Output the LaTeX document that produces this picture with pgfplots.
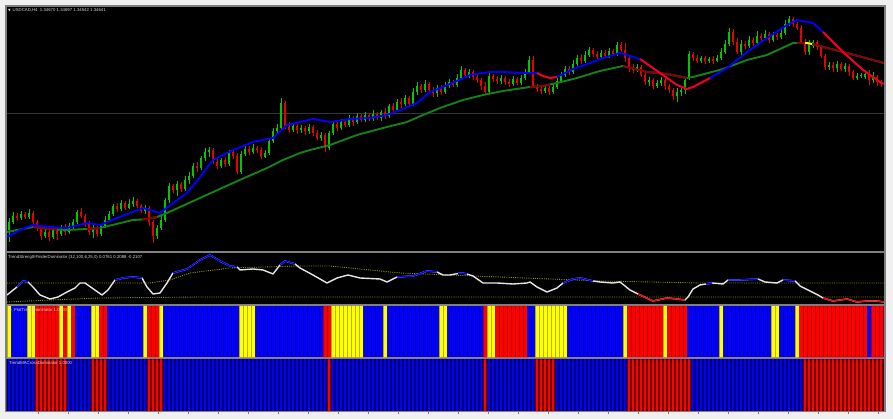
\documentclass[border=0pt]{standalone}
\usepackage{pgfplots}
\pgfplotsset{compat=1.18}
\usepackage{pgfplotstable}
\usepackage{fontspec}
\setmainfont{Liberation Sans}
\newfontfamily\dejavu{DejaVu Sans}
\definecolor{bgout}{RGB}{240,240,240}
\definecolor{framec}{RGB}{128,128,128}
\definecolor{cgreen}{RGB}{0,200,0}
\definecolor{cred}{RGB}{235,0,0}
\definecolor{mablue}{RGB}{0,0,255}
\definecolor{mared}{RGB}{255,0,0}
\definecolor{slowgreen}{RGB}{20,130,20}
\definecolor{slowred}{RGB}{140,0,0}
\definecolor{dotc}{RGB}{150,150,0}
\definecolor{oscwhite}{RGB}{230,230,230}
\definecolor{hblue}{RGB}{0,0,255}
\definecolor{hred}{RGB}{255,0,0}
\definecolor{hyellow}{RGB}{255,255,0}
\definecolor{txt}{RGB}{215,215,215}
\definecolor{priceline}{RGB}{50,55,60}

\pgfplotstableread{
i o c h l
0 230 222 218 242
1 222 216 212 224
2 216 218 213 221
3 218 214 211 220
4 214 217 212 219
5 217 213 209 219
6 213 222 211 224
7 222 228 220 231
8 228 236 226 240
9 236 232 228 238
10 232 237 230 241
11 237 230 226 239
12 230 234 228 240
13 234 228 225 236
14 228 232 224 235
15 232 226 223 234
16 226 222 219 229
17 222 212 210 224
18 212 216 208 218
19 216 224 214 227
20 224 232 221 235
21 232 228 224 238
22 228 234 226 237
23 234 226 224 236
24 226 220 216 228
25 220 214 211 222
26 214 206 204 216
27 206 209 203 212
28 209 203 200 211
29 203 208 201 210
30 208 204 199 209
31 204 201 197 207
32 201 206 199 208
33 206 211 204 213
34 211 208 205 214
35 208 222 206 226
36 222 236 220 243
37 236 228 225 239
38 228 220 216 230
39 220 200 198 222
40 200 186 183 203
41 186 190 184 193
42 190 184 181 196
43 184 189 182 192
44 189 180 176 191
45 180 176 172 184
46 176 166 163 178
47 166 168 162 172
48 168 158 156 170
49 158 152 148 161
50 152 150 147 157
51 150 162 148 164
52 162 166 159 169
53 166 160 158 168
54 160 164 157 167
55 164 152 150 166
56 152 156 150 159
57 156 172 153 174
58 172 154 151 174
59 154 149 146 156
60 149 152 146 155
61 152 148 144 154
62 148 150 146 153
63 150 157 147 159
64 157 153 150 158
65 153 141 139 155
66 141 131 128 143
67 131 128 124 134
68 128 103 98 130
69 103 127 101 129
70 127 130 122 133
71 130 126 123 132
72 126 130 124 134
73 130 128 125 133
74 128 131 126 135
75 131 127 124 134
76 127 133 125 136
77 133 138 130 140
78 138 135 132 141
79 135 148 133 152
80 148 133 131 150
81 133 124 121 135
82 124 128 120 131
83 128 122 119 130
84 122 125 119 127
85 125 118 115 127
86 118 122 116 126
87 122 116 113 124
88 116 120 114 122
89 120 115 112 122
90 115 119 113 121
91 119 114 110 121
92 114 118 112 120
93 118 112 110 121
94 112 116 108 119
95 116 106 104 118
96 106 110 103 114
97 110 102 99 112
98 102 104 98 108
99 104 98 95 106
100 98 104 96 107
101 104 92 88 106
102 92 86 82 95
103 86 90 84 93
104 90 84 80 92
105 84 90 82 94
106 90 93 87 97
107 93 88 85 97
108 88 92 85 95
109 92 86 82 94
110 86 82 79 88
111 82 85 80 87
112 85 78 74 87
113 78 70 66 80
114 70 75 68 77
115 75 72 69 78
116 72 77 70 80
117 77 80 75 83
118 80 86 78 90
119 86 92 82 95
120 92 76 73 94
121 76 79 74 82
122 79 81 76 84
123 81 78 75 84
124 78 82 76 85
125 82 84 79 87
126 84 79 76 86
127 79 83 77 85
128 83 78 75 85
129 78 72 69 80
130 72 60 56 74
131 60 86 56 88
132 86 89 84 92
133 89 91 86 94
134 91 88 85 93
135 88 92 86 95
136 92 87 84 94
137 87 81 78 89
138 81 75 72 83
139 75 69 66 77
140 69 72 66 75
141 72 64 60 74
142 64 58 55 66
143 58 61 54 64
144 61 55 51 63
145 55 50 47 57
146 50 54 48 57
147 54 57 51 60
148 57 53 50 59
149 53 56 50 58
150 56 51 48 58
151 51 54 49 56
152 54 45 42 56
153 45 50 42 52
154 50 58 43 62
155 58 68 56 72
156 68 70 64 73
157 70 67 64 72
158 67 75 65 77
159 75 82 72 85
160 82 80 77 86
161 80 86 78 89
162 86 83 80 88
163 83 80 77 86
164 80 86 76 90
165 86 90 84 93
166 90 96 88 100
167 96 92 88 102
168 92 90 86 96
169 90 80 77 94
170 78 54 51 80
171 54 58 52 61
172 58 61 55 63
173 61 58 56 63
174 58 61 56 64
175 61 59 57 63
176 59 61 56 64
177 61 58 55 62
178 58 52 48 60
179 52 44 40 54
180 44 32 28 46
181 32 42 29 45
182 42 52 38 54
183 52 44 40 55
184 44 46 41 49
185 46 40 36 48
186 40 43 37 46
187 43 36 31 45
188 36 38 33 41
189 38 34 30 40
190 34 40 32 43
191 40 35 32 42
192 35 37 33 40
193 37 33 29 39
194 33 24 20 35
195 24 19 16 26
196 19 24 17 27
197 24 28 22 30
198 28 42 25 44
199 42 52 39 55
200 52 44 40 55
201 46 42 40 48
202 42 47 40 50
203 47 56 45 58
204 56 67 54 70
205 67 65 62 70
206 65 68 62 72
207 68 64 61 72
208 64 69 62 71
209 69 66 63 72
210 66 72 64 76
211 72 78 70 80
212 78 76 73 80
213 76 75 73 78
214 77 74 70 79
215 74 80 70 85
216 80 77 72 83
217 77 82 75 86
218 82 84 80 87
}\candles

\pgfplotstableread{
i y
-0.5 237
2.75 230
6 225
10.25 227
14.5 228
19.5 223
22.75 225
27 218
33.5 208
37.75 213
41 203
44.5 193
47.75 177
51 160
56 150
61 142
66 138
69.5 125
72.75 122
76 119
80.25 122
85.25 119
90.25 118
94.5 115
97.75 110
102 103
105.25 92
108.5 87
112 81
115.25 75
120.25 72
123.5 72
128.5 73
132 73
133.5 76
135.25 78
137 77
141 69
145.25 63
147.75 59
152.75 53
157.75 59
162.75 73
167 85
169.5 89
171 87
175.25 78
179.5 68
184.5 52
189.5 38
194.5 25
197 20
201 23
203.5 32
208.5 52
213.5 70
217.75 82
218.75 84
}\fastma

\pgfplotstableread{
i y
-0.5 232
6 227
10.25 229
12 229.5
14.5 230
19.5 229
22.75 228
31 220
33.25 219.5
34.5 219
37 217
39.5 213
47.75 198
56 183
64.5 168
68.5 160
72.75 153
75.25 150
80.25 145
87 135
93.5 128
99.5 122
103.5 115
107.75 108
113.5 100
118.5 95
123.5 91
128.5 88
130.25 87
133.5 86
135.25 84.5
137 83
142 78
147.75 71
153.5 66
159.5 72
164.5 74
169.5 78
171 77
178.5 69
184.5 60
189.5 55
196 43
197 43
199 43
199.5 43
200.75 44
204.5 48
209.5 53
218.75 63
}\slowma

\pgfplotstableread{
i y
-0.5 295
2 287
3.5 281
4.75 282
6 287
7.75 295
10.25 299
12.25 297
14.5 292
16.5 288
17.75 283
19 283
20.75 288
23.25 295
24.75 290
26.5 280
28.5 278
31 277
33.25 278
34.5 287
36 294
37.75 293
39.5 283
41 273
44.5 269
47.75 260
50.25 255
52.75 261
55.25 266
57 267
57.75 270
61 269
63.5 270
66 274
67.75 265
69 261
71.5 264
72.75 268
76 275
79.5 283
82 278
84.75 275
87.75 278
92.75 279
94.5 282
97 277
101 276
104.5 271
107 272
108.5 275
110.25 275
112.25 273.5
113.25 273
114.5 274
116 276
118.5 283
122 283
126 284
129.5 283
130.25 282
132 287
134.5 292
137 288
138.5 283
141 279
142.75 278
146 281
147.75 282
151 283
152.75 282
155.25 290
157.25 294
161 301
164.5 298
167 299
169 300
169.75 297
171 289
172.75 285
174.25 284
175.75 283
178.5 284
179.75 280
182.75 280
187.25 279
189 282
192 283
193.5 280
196.5 281
197.75 286
200.25 291
202.25 295
203.5 298
206 301
209.5 299
212 302
214.5 301
217 301
218.75 302
}\osc

\pgfplotstableread{
i y
-0.5 283
35.25 283
40.25 280
45.25 273
55.25 268
72.75 266
80.25 266
97.75 273
122.75 277
147.75 281
172.75 283
218.75 283
}\oscup

\pgfplotstableread{
i y
-0.5 302
10.25 300
22.75 298
47.75 297
218.75 297
}\osclo

\pgfplotsset{
  panel/.style={scale only axis, anchor=south west, width=876.5pt,
    xmin=-0.5, xmax=218.625, axis line style={draw=none},
    xtick=\empty, ytick=\empty},
  hist/.style={panel, ymin=0, ymax=1, axis background/.style={fill=hblue},
    xtick={-0.5,0.5,...,218.5}, xticklabels={}, major tick length=0pt,
    xmajorgrids, axis on top},
}
\newcommand{\ttl}{\fontsize{4.3}{5}\selectfont}

\begin{document}
\begin{tikzpicture}
\fill[bgout] (0pt,0pt) rectangle (893pt,419pt);
\fill[framec] (5pt,6.5pt) rectangle (885.5pt,414pt);

% ---------------- main price panel
\begin{axis}[panel, at={(7pt,168.2pt)}, height=243.8pt,
  ymin=7, ymax=250.8, y dir=reverse, axis background/.style={fill=black}]
\addplot[priceline, line width=1.4pt] coordinates {(-1,113.5) (220,113.5)};
% candle wicks (from high to low)
\addplot[cgreen, line width=0.9pt, quiver={u=0, v={\thisrow{l}-\thisrow{h}}}]
  table[x=i, y expr={\thisrow{c}<\thisrow{o} ? \thisrow{h} : nan}] {\candles};
\addplot[cred, line width=0.9pt, quiver={u=0, v={\thisrow{l}-\thisrow{h}}}]
  table[x=i, y expr={\thisrow{c}<\thisrow{o} ? nan : \thisrow{h}}] {\candles};
% candle bodies (from open to close)
\addplot[cgreen, line width=2.7pt, quiver={u=0, v={\thisrow{c}-\thisrow{o}}}]
  table[x=i, y expr={\thisrow{c}<\thisrow{o} ? \thisrow{o} : nan}] {\candles};
\addplot[cred, line width=2.7pt, quiver={u=0, v={\thisrow{c}-\thisrow{o}}}]
  table[x=i, y expr={\thisrow{c}<\thisrow{o} ? nan : \thisrow{o}}] {\candles};
% slow MA
\addplot[slowgreen, line width=1.9pt, line join=round] table[x=i,y=y] {\slowma};
\addplot[slowred, line width=1.9pt, line join=round, restrict x to domain=6:12] table[x=i,y=y] {\slowma};
\addplot[slowred, line width=1.9pt, line join=round, restrict x to domain=19.5:22.75] table[x=i,y=y] {\slowma};
\addplot[slowred, line width=1.9pt, line join=round, restrict x to domain=33:37] table[x=i,y=y] {\slowma};
\addplot[slowred, line width=1.9pt, line join=round, restrict x to domain=130:135.5] table[x=i,y=y] {\slowma};
\addplot[slowred, line width=1.9pt, line join=round, restrict x to domain=153.5:170.5] table[x=i,y=y] {\slowma};
\addplot[slowred, line width=1.9pt, line join=round, restrict x to domain=197:219] table[x=i,y=y] {\slowma};
\addplot[hyellow, line width=1.9pt, restrict x to domain=199:200.75] table[x=i,y=y] {\slowma};
% fast MA
\addplot[mablue, line width=1.9pt, line join=round] table[x=i,y=y] {\fastma};
\addplot[mared, line width=1.9pt, line join=round, restrict x to domain=132:137] table[x=i,y=y] {\fastma};
\addplot[mared, line width=1.9pt, line join=round, restrict x to domain=157.5:175.5] table[x=i,y=y] {\fastma};
\addplot[mared, line width=1.9pt, line join=round, restrict x to domain=203:219] table[x=i,y=y] {\fastma};
\end{axis}

% ---------------- oscillator panel
\begin{axis}[panel, at={(7pt,115pt)}, height=51pt,
  ymin=253, ymax=304, y dir=reverse, axis background/.style={fill=black}]
\addplot[dotc, line width=0.9pt, dash pattern=on 1pt off 1.2pt] table[x=i,y=y] {\oscup};
\addplot[dotc, line width=0.9pt, dash pattern=on 1pt off 1.2pt] table[x=i,y=y] {\osclo};
\addplot[oscwhite, line width=1.4pt, line join=round] table[x=i,y=y] {\osc};
\addplot[mablue, line width=1.4pt, restrict x to domain=2:5] table[x=i,y=y] {\osc};
\addplot[mablue, line width=1.4pt, restrict x to domain=26:34] table[x=i,y=y] {\osc};
\addplot[mablue, line width=1.4pt, restrict x to domain=40:57.5] table[x=i,y=y] {\osc};
\addplot[mablue, line width=1.4pt, restrict x to domain=67.5:72] table[x=i,y=y] {\osc};
\addplot[mablue, line width=1.4pt, restrict x to domain=97:108] table[x=i,y=y] {\osc};
\addplot[mablue, line width=1.4pt, restrict x to domain=112:115] table[x=i,y=y] {\osc};
\addplot[mablue, line width=1.4pt, restrict x to domain=138:147] table[x=i,y=y] {\osc};
\addplot[mablue, line width=1.4pt, restrict x to domain=174:176] table[x=i,y=y] {\osc};
\addplot[mablue, line width=1.4pt, restrict x to domain=179:188.5] table[x=i,y=y] {\osc};
\addplot[mablue, line width=1.4pt, restrict x to domain=193:197] table[x=i,y=y] {\osc};
\addplot[mared, line width=1.4pt, restrict x to domain=156.5:169.5] table[x=i,y=y] {\osc};
\addplot[mared, line width=1.4pt, restrict x to domain=203:219] table[x=i,y=y] {\osc};
\end{axis}

% ---------------- flat/trend panel
\begin{axis}[hist, at={(7pt,61.7pt)}, height=51.3pt,
  grid style={black, opacity=0.3, line width=0.5pt}]
\addplot[const plot, fill=hred, draw=none] coordinates {
 (6.5,1)(12.5,0)(13.5,1)(14.5,0)(15.5,1)(16.5,0)(22.5,1)(24.5,0)(34.5,1)(37.5,0)
 (78.5,1)(80.5,0)(118.5,1)(119.5,0)(121.5,1)(129.5,0)(154.5,1)(163.5,0)
 (164.5,1)(169.5,0)(197.5,1)(214.5,0)(215.5,1)(219,0)} \closedcycle;
\addplot[const plot, fill=hyellow, draw=none] coordinates {
 (-0.5,1)(0.5,0)(4.5,1)(6.5,0)(12.5,1)(13.5,0)(14.5,1)(15.5,0)(20.5,1)(22.5,0)
 (33.5,1)(34.5,0)(37.5,1)(38.5,0)(57.5,1)(61.5,0)(80.5,1)(88.5,0)(93.5,1)(94.5,0)
 (107.5,1)(109.5,0)(119.5,1)(121.5,0)(131.5,1)(139.5,0)(153.5,1)(154.5,0)
 (163.5,1)(164.5,0)(177.5,1)(178.5,0)(190.5,1)(192.5,0)(196.5,1)(197.5,0)} \closedcycle;
\end{axis}

% ---------------- MA cross panel
\begin{axis}[hist, at={(7pt,8pt)}, height=51.5pt,
  grid style={black, opacity=0.6, line width=1.1pt},
  xtick pos=left,
  extra x ticks={7.25,14.75,...,217.25}, extra x tick labels={},
  extra x tick style={grid=none, major tick length=3.5pt, tick align=outside,
    tick style={framec, line width=0.6pt}}]
\addplot[const plot, fill=hred, draw=none] coordinates {
 (6.5,1)(14.5,0)(20.5,1)(24.5,0)(34.5,1)(38.5,0)(79.5,1)(80.5,0)(118.5,1)(119.5,0)
 (131.5,1)(136.5,0)(154.5,1)(170.5,0)(198.5,1)(219,0)} \closedcycle;
\end{axis}

% ---------------- titles
\node[anchor=west, inner sep=0pt, text=txt, font=\ttl] at (8pt,409pt)
  {{\dejavu\fontsize{3.4}{4}\selectfont ▼}\, USDCAD,H4\ \ 1.34670 1.34697 1.34542 1.34641};
\node[anchor=west, inner sep=0pt, text=txt, font=\ttl] at (8pt,162pt)
  {TrendStrengthFinderDominator (32,100,6,25,0) 0.0761 0.2088 -0.2107};
\node[anchor=west, inner sep=0pt, text=txt, font=\ttl] at (9pt,109pt)
  {{\dejavu\fontsize{3.4}{4}\selectfont ≡}\ \ FlatTrendDominator 1.0000};
\node[anchor=west, inner sep=0pt, text=txt, font=\ttl] at (9pt,56pt)
  {TrendMACrossDominator 1.0000};

\pgfresetboundingbox
\useasboundingbox (0pt,0pt) rectangle (893pt,419pt);
\end{tikzpicture}
\end{document}
